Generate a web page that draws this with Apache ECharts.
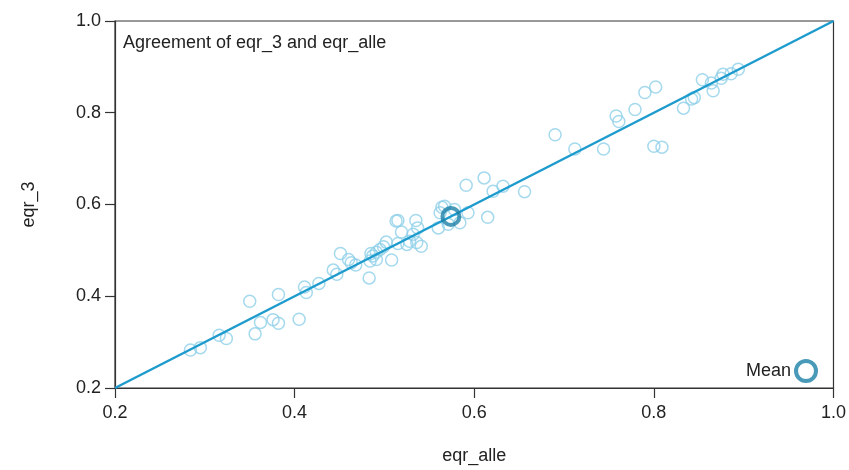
<!DOCTYPE html>
<html>
<head>
<meta charset="utf-8">
<script src="https://cdn.jsdelivr.net/npm/echarts@6/dist/echarts.min.js"></script>
<style>
	html, body { margin: 0; padding: 0; background: #fff; }
	#chart { width: 849px; height: 470px; }
</style>
</head>
<body>
<div id="chart"></div>
<script>
// eqr_alle (x) and eqr_3 (y) per site
var eqrAlle = [0.284, 0.295, 0.316, 0.324, 0.350, 0.356, 0.362, 0.376, 0.382, 0.382,
	0.405, 0.411, 0.413, 0.427, 0.443, 0.447, 0.451, 0.460, 0.463, 0.468,
	0.483, 0.484, 0.485, 0.487, 0.491, 0.491, 0.495, 0.499, 0.502, 0.508,
	0.513, 0.515, 0.515, 0.519, 0.525, 0.528, 0.532, 0.535, 0.536, 0.537,
	0.541, 0.560, 0.562, 0.564, 0.567, 0.571, 0.578, 0.584, 0.591, 0.593,
	0.611, 0.615, 0.621, 0.632, 0.656, 0.690, 0.712, 0.744, 0.758, 0.761,
	0.779, 0.790, 0.800, 0.802, 0.809, 0.833, 0.842, 0.845, 0.854, 0.864,
	0.866, 0.875, 0.877, 0.886, 0.894];
var eqr3 = [0.283, 0.288, 0.315, 0.308, 0.389, 0.318, 0.343, 0.349, 0.341, 0.404,
	0.350, 0.420, 0.408, 0.428, 0.457, 0.448, 0.493, 0.480, 0.473, 0.468,
	0.440, 0.477, 0.493, 0.488, 0.496, 0.480, 0.502, 0.508, 0.518, 0.479,
	0.564, 0.515, 0.565, 0.540, 0.513, 0.520, 0.535, 0.565, 0.517, 0.549,
	0.509, 0.549, 0.582, 0.594, 0.596, 0.557, 0.589, 0.560, 0.642, 0.582,
	0.658, 0.572, 0.629, 0.640, 0.628, 0.752, 0.721, 0.721, 0.793, 0.781,
	0.807, 0.844, 0.727, 0.856, 0.725, 0.810, 0.830, 0.833, 0.872, 0.865,
	0.848, 0.875, 0.884, 0.885, 0.895];
var meanPoint = [0.574, 0.574];
var identityLine = [[0.2, 0.2], [1.0, 1.0]];
var axisTicks = [0.2, 0.4, 0.6, 0.8, 1.0];

var points = [];
for (var i = 0; i < eqrAlle.length; i++) {
	points.push([eqrAlle[i], eqr3[i]]);
}

var chart = echarts.init(document.getElementById('chart'));
var font = 'Liberation Sans, Arial, sans-serif';

function valueAxis(name, gap, labelMargin) {
	return {
		type: 'value',
		min: axisTicks[0],
		max: axisTicks[axisTicks.length - 1],
		interval: 0.2,
		name: name,
		nameLocation: 'middle',
		nameGap: gap,
		nameTextStyle: { color: '#222', fontSize: 18, fontFamily: font },
		axisLine: { show: true, lineStyle: { color: '#333', width: 1.2 } },
		axisTick: { show: true, length: 10, lineStyle: { color: '#333', width: 1.2 } },
		axisLabel: {
			color: '#222', fontSize: 18, fontFamily: font, margin: labelMargin,
			formatter: function (v) { return v.toFixed(1); }
		},
		splitLine: { show: false }
	};
}

var option = {
	backgroundColor: '#fff',
	animation: false,
	grid: {
		left: 115, top: 21, right: 15, bottom: 81,
		show: true, borderColor: '#333', borderWidth: 1.2
	},
	title: {
		text: 'Agreement of eqr_3 and eqr_alle',
		left: 118, top: 29,
		textStyle: { color: '#222', fontSize: 18, fontWeight: 'normal', fontFamily: font }
	},
	legend: {
		data: [{ name: 'Mean', icon: 'circle' }],
		right: 26, top: 354,
		align: 'right',
		itemWidth: 20, itemHeight: 20, itemGap: 6,
		itemStyle: { color: 'rgba(255,255,255,0)', borderColor: '#1b7fa8', borderWidth: 4 },
		textStyle: { color: '#222', fontSize: 18, fontFamily: font }
	},
	xAxis: valueAxis('eqr_alle', 59, 16),
	yAxis: valueAxis('eqr_3', 77, 14),
	series: [{
		name: 'sites',
		type: 'scatter',
		data: points,
		symbol: 'circle',
		symbolSize: 12,
		itemStyle: { color: 'rgba(255,255,255,0)', borderColor: '#8fd0e8', borderWidth: 1.5 },
		z: 2
	}, {
		name: 'identity',
		type: 'line',
		data: identityLine,
		showSymbol: false,
		lineStyle: { color: '#1e9bcd', width: 2.5 },
		z: 3
	}, {
		name: 'Mean',
		type: 'scatter',
		data: [meanPoint],
		symbol: 'circle',
		symbolSize: 17,
		itemStyle: { color: 'rgba(255,255,255,0)', borderColor: '#1b7fa8', borderWidth: 4 },
		z: 4
	}]
};
chart.setOption(option);
</script>
</body>
</html>
